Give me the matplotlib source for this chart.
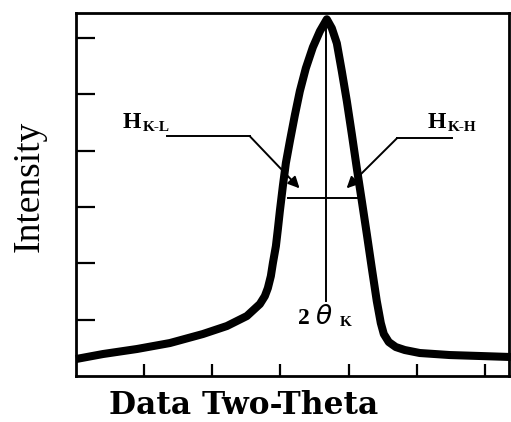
import matplotlib.pyplot as plt

plt.rcParams.update({
    "font.family": "Liberation Serif",
    "mathtext.fontset": "dejavusans",
})

# diffraction peak profile (two-theta in tick units, intensity in tick units)
two_theta = [0.000, 0.396, 0.894, 1.378, 1.862, 2.214, 2.507, 2.698, 2.771,
             2.815, 2.859, 2.889, 2.933, 2.962, 2.991, 3.035, 3.079, 3.138,
             3.211, 3.284, 3.372, 3.475, 3.578, 3.680,
             3.754, 3.827, 3.900, 3.974, 4.047, 4.120, 4.194, 4.267, 4.340,
             4.413, 4.472, 4.516, 4.589, 4.692, 4.824, 5.044, 5.484, 5.924,
             6.378]
intensity = [0.301, 0.390, 0.479, 0.585, 0.745, 0.887, 1.064, 1.277, 1.418,
             1.560, 1.773, 2.004, 2.305, 2.606, 2.926, 3.369, 3.777, 4.167,
             4.628, 5.053, 5.461, 5.833, 6.117, 6.330,
             6.170, 5.904, 5.408, 4.876, 4.291, 3.688, 3.103, 2.518, 1.915,
             1.330, 0.940, 0.745, 0.603, 0.514, 0.461, 0.408, 0.372, 0.355,
             0.337]

peak_pos = 3.67
peak_top = 6.30
half_height = 3.16
half_left, half_right = 3.11, 4.12

x_ticks = [1, 2, 3, 4, 5, 6]
y_ticks = [1, 2, 3, 4, 5, 6]

fig = plt.figure(figsize=(5.11, 4.22), dpi=100)
ax = fig.add_axes([0.1487, 0.109, 0.847, 0.860])

ax.plot(two_theta, intensity, color="black", lw=5.8, solid_joinstyle="round",
        solid_capstyle="butt", clip_on=False, zorder=3)

# peak position and half-height width markers
ax.plot([peak_pos, peak_pos], [1.33, peak_top], color="black", lw=1.4)
ax.plot([half_left, half_right], [half_height, half_height], color="black", lw=1.4)

# leader lines with arrows for the low/high side half widths
lead_kw = dict(color="black", lw=1.4)
arrow_kw = dict(arrowstyle="-|>,head_length=0.45,head_width=0.22",
                color="black", lw=1.4, mutation_scale=15,
                shrinkA=0, shrinkB=0)
ax.plot([1.33, 2.55], [4.255, 4.255], **lead_kw)
ax.annotate("", xy=(3.28, 3.33), xytext=(2.55, 4.255), arrowprops=arrow_kw)
ax.plot([5.51, 4.71], [4.22, 4.22], **lead_kw)
ax.annotate("", xy=(3.97, 3.33), xytext=(4.71, 4.22), arrowprops=arrow_kw)

ax.text(0.69, 4.40, "H", fontsize=17, fontweight="bold", ha="left", va="baseline")
ax.text(0.98, 4.34, "K-L", fontsize=11, fontweight="bold", ha="left", va="baseline")
ax.text(5.16, 4.40, "H", fontsize=17, fontweight="bold", ha="left", va="baseline")
ax.text(5.45, 4.34, "K-H", fontsize=11, fontweight="bold", ha="left", va="baseline")

ax.text(3.26, 0.92, "2", fontsize=17, fontweight="bold", ha="left", va="baseline")
ax.text(3.50, 0.92, r"$\theta$", fontsize=19, ha="left", va="baseline")
ax.text(3.87, 0.89, "K", fontsize=11, fontweight="bold", ha="left", va="baseline")

ax.set_xlim(0, 6.35)
ax.set_ylim(0, 6.44)
ax.set_xticks(x_ticks)
ax.set_yticks(y_ticks)
ax.set_xticklabels([])
ax.set_yticklabels([])
ax.tick_params(axis="y", direction="in", length=13.5, width=1.6)
ax.tick_params(axis="x", direction="in", length=9, width=1.6)
for spine in ax.spines.values():
    spine.set_linewidth(2.0)

ax.set_ylabel("Intensity", fontsize=27, ha="center", va="center")
ax.yaxis.set_label_coords(-0.108, 0.522)
ax.set_xlabel("Data Two-Theta", fontsize=22.5, fontweight="bold",
              family="DejaVu Serif", ha="center", va="baseline")
ax.xaxis.set_label_coords(0.387, -0.104)

fig.savefig("out.png", dpi=100)
